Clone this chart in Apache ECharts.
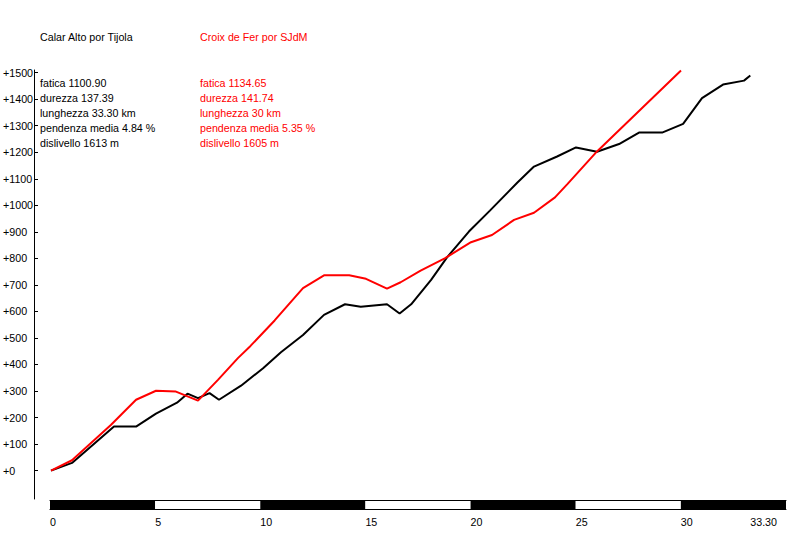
<!DOCTYPE html>
<html>
<head>
<meta charset="utf-8">
<script src="https://cdn.jsdelivr.net/npm/echarts@6/dist/echarts.min.js"></script>
<style>
html,body{margin:0;padding:0;background:#fff;}
#c{width:800px;height:560px;}
</style>
</head>
<body>
<div id="c"></div>
<script>
// ---- data ----
const calarName = 'Calar Alto por Tijola';
const croixName = 'Croix de Fer por SJdM';
const calarStats = ['fatica 1100.90', 'durezza 137.39', 'lunghezza 33.30 km', 'pendenza media 4.84 %', 'dislivello 1613 m'];
const croixStats = ['fatica 1134.65', 'durezza 141.74', 'lunghezza 30 km', 'pendenza media 5.35 %', 'dislivello 1605 m'];

const calarKm  = [0, 1.0, 3.0, 4.05, 5.0, 6.0, 6.5, 7.0, 7.55, 8.0, 9.05, 10.1, 10.95, 12.0, 13.0, 14.0, 14.75, 16.0, 16.6, 17.15, 18.1, 18.85, 19.9, 20.9, 22.2, 23.0, 24.1, 25.0, 26.0, 27.05, 28.0, 29.1, 30.1, 31.0, 32.0, 33.0, 33.3];
const calarAlt = [0, 29, 166, 166, 215, 256, 290, 273, 292, 267, 320, 386, 446, 511, 587, 627, 618, 627, 592, 627, 719, 803, 901, 980, 1085, 1146, 1184, 1218, 1202, 1231, 1274, 1274, 1307, 1404, 1455, 1470, 1489];

const croixKm  = [0, 1.0, 2.85, 4.05, 5.0, 5.95, 7.0, 7.95, 8.9, 9.5, 10.65, 12.0, 13.0, 14.2, 15.0, 16.0, 16.65, 17.6, 18.75, 20.0, 21.0, 22.05, 23.0, 24.0, 24.6, 26.0, 30.0];
const croixAlt = [0, 39, 172, 267, 301, 298, 264, 342, 424, 470, 566, 688, 736, 736, 723, 686, 710, 754, 800, 861, 888, 945, 972, 1030, 1081, 1203, 1508];

const yTicks = [0, 100, 200, 300, 400, 500, 600, 700, 800, 900, 1000, 1100, 1200, 1300, 1400, 1500];
const xTicks = [0, 5, 10, 15, 20, 25, 30, 33.3];

// ---- chart ----
const FONT = '"Liberation Sans", Arial, sans-serif';
const FS = 10.7;
const chart = echarts.init(document.getElementById('c'), null, {renderer: 'svg'});

const pairs = (xs, ys) => xs.map((x, i) => [x, ys[i]]);
const titleStyle = (color) => ({color: color, fontSize: FS, fontFamily: FONT, fontWeight: 'normal', lineHeight: 15});

chart.setOption({
  animation: false,
  backgroundColor: '#fff',
  title: [
    {text: calarName, left: 40, top: 29, padding: 0, textStyle: titleStyle('#000')},
    {text: croixName, left: 200, top: 29, padding: 0, textStyle: titleStyle('#ff0000')},
    {text: calarStats.join('\n'), left: 40, top: 75, padding: 0, textStyle: titleStyle('#000')},
    {text: croixStats.join('\n'), left: 200, top: 75, padding: 0, textStyle: titleStyle('#ff0000')}
  ],
  grid: [
    {left: 50, right: 14, top: 70, height: 429, containLabel: false},
    {left: 50, right: 14, top: 500, height: 9, containLabel: false, show: false}
  ],
  xAxis: [
    {gridIndex: 0, type: 'value', min: 0, max: 35, show: false},
    {gridIndex: 1, type: 'value', min: 0, max: 35, interval: 5, position: 'bottom',
     axisLine: {show: true, onZero: false, lineStyle: {color: '#000', width: 1}},
     axisTick: {show: false},
     splitLine: {show: false},
     splitArea: {show: true, areaStyle: {color: ['#000000', '#ffffff'], opacity: 1}},
     axisLabel: {customValues: xTicks, align: 'left', margin: 7, color: '#000', fontSize: FS, fontFamily: FONT,
       formatter: v => (Math.abs(v - 33.3) < 1e-6 ? '33.30' : String(v))}},
    {gridIndex: 1, type: 'value', min: 0, max: 35, position: 'top',
     axisLine: {show: true, onZero: false, lineStyle: {color: '#000', width: 1}},
     axisTick: {show: false}, axisLabel: {show: false}, splitLine: {show: false}}
  ],
  yAxis: [
    {gridIndex: 0, type: 'value', min: -107, max: 1510, position: 'left', offset: 17,
     axisLine: {show: true, onZero: false, lineStyle: {color: '#000', width: 1}},
     axisTick: {show: true, inside: true, length: 4, customValues: yTicks, lineStyle: {color: '#000'}},
     splitLine: {show: false},
     axisLabel: {customValues: yTicks, align: 'left', margin: 31, color: '#000', fontSize: FS, fontFamily: FONT,
       formatter: v => '+' + v}},
    {gridIndex: 1, type: 'value', min: 0, max: 1, show: false}
  ],
  series: [
    {name: calarName, type: 'line', xAxisIndex: 0, yAxisIndex: 0, data: pairs(calarKm, calarAlt),
     showSymbol: false, symbol: 'none', lineStyle: {color: '#000', width: 2}, itemStyle: {color: '#000'}},
    {name: croixName, type: 'line', xAxisIndex: 0, yAxisIndex: 0, data: pairs(croixKm, croixAlt),
     showSymbol: false, symbol: 'none', lineStyle: {color: '#ff0000', width: 2}, itemStyle: {color: '#ff0000'}}
  ]
});
</script>
</body>
</html>
